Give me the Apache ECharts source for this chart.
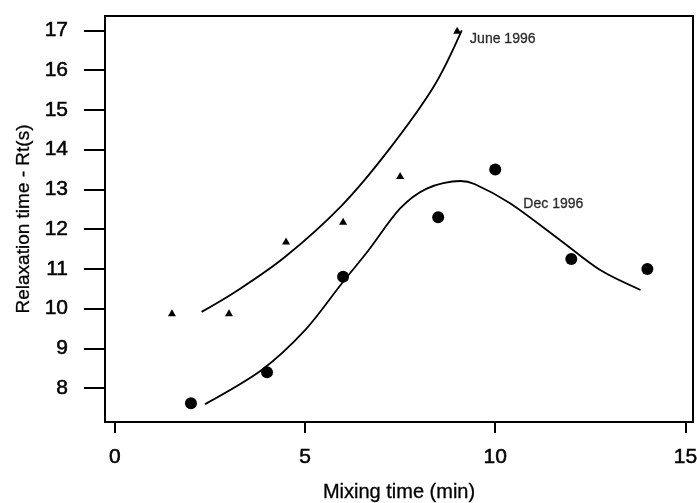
<!DOCTYPE html>
<html>
<head>
<meta charset="utf-8">
<script src="https://cdn.jsdelivr.net/npm/echarts@6/dist/echarts.min.js"></script>
<style>
  html, body { margin: 0; padding: 0; background: #fff; }
  #chart { width: 697px; height: 503px; }
</style>
</head>
<body>
<div id="chart"></div>
<script>
// Measured relaxation times (s) against mixing time (min)
const juneX = [1.5, 3, 4.5, 6, 7.5, 9];
const juneY = [9.9, 9.9, 11.7, 12.2, 13.35, 17.0];
const decX = [2, 4, 6, 8.5, 10, 12, 14];
const decY = [7.62, 8.4, 10.8, 12.3, 13.5, 11.25, 11.0];

// Fitted trend curves
const juneFitX = [2.28, 3.16, 4.47, 5.97, 7.19, 8.38, 9.12];
const juneFitY = [9.92, 10.42, 11.3, 12.6, 13.98, 15.58, 17.0];
const decFitX = [2.37, 3.86, 5.0, 5.97, 6.67, 7.5, 8.2, 9.08, 9.47, 10.39, 11.71, 12.76, 13.82];
const decFitY = [7.6, 8.46, 9.46, 10.64, 11.47, 12.52, 13.02, 13.21, 13.13, 12.65, 11.72, 10.97, 10.47];

const xTicks = [0, 5, 10, 15];
const yTicks = [8, 9, 10, 11, 12, 13, 14, 15, 16, 17];

const seriesLabels = [
  { text: 'June 1996', x: 9.05, y: 17.0, dy: 9 },
  { text: 'Dec 1996', x: 10.45, y: 12.63, dy: 0 }
];

const zip = (a, b) => a.map((v, i) => [v, b[i]]);
const FONT = '"Liberation Sans", Arial, sans-serif';
// slightly heavier strokes for the printed-looking text
const ink = w => ({ color: '#000', fontFamily: FONT, textBorderColor: '#000', textBorderWidth: w });

const chart = echarts.init(document.getElementById('chart'), null, { renderer: 'canvas' });
chart.setOption({
  animation: false,
  backgroundColor: '#fff',
  textStyle: { fontFamily: FONT, color: '#000' },
  grid: {
    left: 105, right: 4, top: 16, bottom: 81,
    outerBoundsMode: 'none', containLabel: false,
    show: true, borderColor: '#000', borderWidth: 2, backgroundColor: 'transparent'
  },
  xAxis: {
    type: 'value', min: -0.26, max: 15.2,
    name: 'Mixing time (min)', nameLocation: 'middle', nameGap: 60,
    nameTextStyle: Object.assign({ fontSize: 20 }, ink(0.3)),
    splitLine: { show: false },
    axisLine: { show: true, onZero: false, lineStyle: { color: '#000', width: 2 } },
    axisTick: { show: true, length: 11, customValues: xTicks, lineStyle: { color: '#000', width: 2 } },
    axisLabel: Object.assign({ customValues: xTicks, margin: 25, fontSize: 21 }, ink(0.5))
  },
  yAxis: {
    type: 'value', min: 7.15, max: 17.36,
    name: 'Relaxation time - Rt(s)', nameLocation: 'middle', nameGap: 71, nameRotate: 90,
    nameTextStyle: Object.assign({ fontSize: 19 }, ink(0.3)),
    splitLine: { show: false },
    axisLine: { show: true, onZero: false, lineStyle: { color: '#000', width: 2 } },
    axisTick: { show: true, length: 21, customValues: yTicks, lineStyle: { color: '#000', width: 2 } },
    axisLabel: Object.assign({ customValues: yTicks, margin: 37, fontSize: 21 }, ink(0.5))
  },
  series: [
    {
      type: 'line', data: zip(juneFitX, juneFitY), smooth: 0.35, showSymbol: false,
      lineStyle: { color: '#000', width: 1.8 }, silent: true
    },
    {
      type: 'line', data: zip(decFitX, decFitY), smooth: 0.3, showSymbol: false,
      lineStyle: { color: '#000', width: 1.8 }, silent: true
    },
    {
      type: 'scatter', data: zip(juneX, juneY), symbol: 'triangle', symbolSize: [8, 7],
      itemStyle: { color: '#000', opacity: 1 }
    },
    {
      type: 'scatter', data: zip(decX, decY), symbol: 'circle', symbolSize: 12,
      itemStyle: { color: '#000', opacity: 1 }
    },
    {
      type: 'scatter', symbolSize: 0, silent: true,
      data: seriesLabels.map(d => ({ value: [d.x, d.y], name: d.text, label: { offset: [0, d.dy] } })),
      label: Object.assign({
        show: true, position: 'right', distance: 11, formatter: p => p.name, fontSize: 14
      }, ink(0.3))
    }
  ]
});
</script>
</body>
</html>
